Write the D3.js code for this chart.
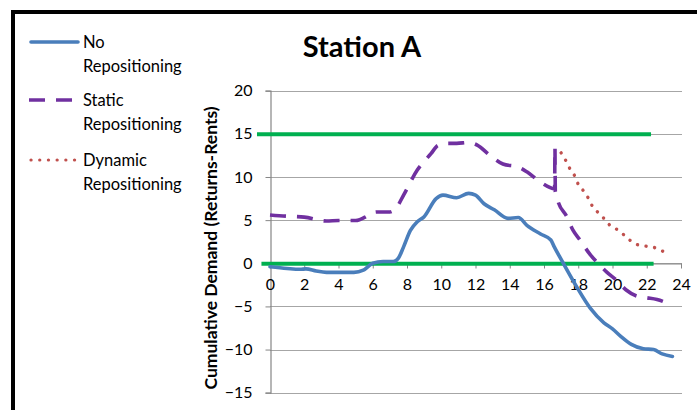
<!DOCTYPE html>
<html>
<head>
<meta charset="utf-8">
<script src="https://cdn.jsdelivr.net/npm/d3@7"></script>
<style>
  html, body { margin: 0; padding: 0; background: #fff; }
  svg { display: block; font-family: Lato, 'Open Sans', sans-serif; }
</style>
</head>
<body>
<svg id="chart" width="697" height="410"></svg>
<script>
// hours of the day and cumulative demand
const noRepoHours = [0, 1, 1.75, 2.1, 2.7, 3.3, 4.9, 5.45, 6.0, 6.6, 7.2, 7.5, 7.8, 8.2, 8.6, 9.0, 9.7, 10.1, 10.9, 11.6, 12.0, 12.5, 13.1, 13.9, 14.5, 15.0, 15.8, 16.4, 16.6, 17.1, 17.9, 18.7, 19.5, 20.0, 20.5, 21.1, 21.8, 22.4, 22.9, 23.5]
const noRepoValues = [-0.4, -0.6, -0.7, -0.65, -0.9, -1.05, -1.05, -0.8, 0, 0.2, 0.2, 0.6, 1.9, 3.8, 4.8, 5.4, 7.5, 7.9, 7.6, 8.1, 7.9, 6.9, 6.2, 5.2, 5.3, 4.4, 3.4, 2.7, 1.9, 0.1, -2.7, -5.2, -6.9, -7.6, -8.5, -9.4, -9.9, -10.0, -10.5, -10.8]

const staticHours = [0, 1, 2, 3.3, 4, 5, 5.8, 6.2, 7.0, 7.4, 7.8, 8.6, 9.4, 9.8, 10.3, 10.9, 11.6, 12.1, 12.85, 13.6, 14.5, 15.0, 15.8, 16.62, 16.64, 16.66, 16.83, 17.33, 17.7, 18.1, 18.7, 19.1, 19.65, 20.2, 20.8, 21.4, 22.0, 22.6, 23.4]
const staticValues = [5.6, 5.45, 5.35, 4.9, 4.95, 4.95, 5.6, 5.95, 5.95, 6.5, 7.9, 10.8, 12.7, 13.65, 13.9, 13.9, 14.0, 13.7, 12.5, 11.5, 11.15, 10.6, 9.4, 8.65, 13.4, 8.3, 7.1, 5.4, 3.8, 2.7, 1.0, 0.1, -1.0, -1.9, -3.1, -3.8, -4.0, -4.2, -4.8]

const dynamicHours = [17.0, 17.3, 17.5, 17.8, 18.0, 18.3, 18.6, 18.8, 19.2, 19.5, 19.8, 20.2, 20.6, 21.0, 21.4, 21.9, 22.4, 22.8, 23.3]
const dynamicValues = [12.8, 11.8, 11.0, 10.1, 9.15, 8.4, 7.5, 6.7, 5.8, 5.2, 4.5, 4.0, 3.4, 2.7, 2.2, 2.0, 1.85, 1.5, 1.15]

// capacity / empty limits drawn as flat green bars
const limitValues = [15, 0]
const limitStarts = [-0.76, -0.5]
const limitEnds = [22.25, 22.4]

const xTicks = d3.range(0, 25, 2)
const yTicks = d3.range(-15, 21, 5)

const seriesNames = ['No Repositioning', 'Static Repositioning', 'Dynamic Repositioning']
const seriesColors = ['#4a7ebb', '#7030a0', '#c0504d']
const seriesDash = [null, '16,11', '0.1,8.6']
const seriesCaps = ['round', 'butt', 'round']

const svg = d3.select('#chart')
const width = +svg.attr('width')
const height = +svg.attr('height')

svg.append('rect')
  .attr('width', width)
  .attr('height', height)
  .attr('fill', '#fff')

// outer frame, clipped by the window on the right and bottom
svg.append('rect')
  .attr('x', 13)
  .attr('y', 12)
  .attr('width', 720)
  .attr('height', 440)
  .attr('fill', 'none')
  .attr('stroke', '#000')
  .attr('stroke-width', 4)

const x = d3.scaleLinear().domain([0, 24]).range([270, 681])
const y = d3.scaleLinear().domain([-15, 20]).range([392.7, 90.7])

// gridlines
svg.append('g')
  .selectAll('line')
  .data(yTicks)
  .enter()
  .append('line')
  .attr('x1', x(0))
  .attr('x2', x(24) + 1)
  .attr('y1', d => Math.round(y(d)) + 0.5)
  .attr('y2', d => Math.round(y(d)) + 0.5)
  .attr('stroke', '#a6a6a6')
  .attr('stroke-width', 1.2)

// y axis
const yAxis = svg.append('g')
  .attr('transform', `translate(${x(0) + 0.5},0)`)
  .call(d3.axisLeft(y).tickValues(yTicks).tickSize(5).tickPadding(13).tickFormat(d3.format('d')))
yAxis.select('.domain').attr('stroke', '#868686').attr('stroke-width', 1.2)
yAxis.selectAll('.tick line').attr('stroke', '#868686')
yAxis.selectAll('.tick text')
  .attr('font-size', 16)
  .attr('fill', '#000')
  .attr('font-family', 'Lato, sans-serif')

// x axis on the zero line
const xAxis = svg.append('g')
  .attr('transform', `translate(0,${Math.round(y(0)) + 0.5})`)
  .call(d3.axisBottom(x).tickValues(xTicks).tickSize(5).tickPadding(10).tickSizeOuter(0))
xAxis.select('.domain').attr('stroke', '#868686').attr('stroke-width', 1.2)
xAxis.selectAll('.tick line').attr('stroke', '#868686')
xAxis.selectAll('.tick text')
  .attr('font-size', 16)
  .attr('fill', '#000')
  .attr('font-family', 'Lato, sans-serif')

// green limit bars
svg.append('g')
  .selectAll('line')
  .data(limitValues)
  .enter()
  .append('line')
  .attr('x1', (d, i) => x(limitStarts[i]))
  .attr('x2', (d, i) => x(limitEnds[i]))
  .attr('y1', d => y(d) + 0.5)
  .attr('y2', d => y(d) + 0.5)
  .attr('stroke', '#00b050')
  .attr('stroke-width', 4)

const line = d3.line()
  .x(d => x(d[0]))
  .y(d => y(d[1]))
  .curve(d3.curveMonotoneX)

const seriesData = [
  d3.zip(noRepoHours, noRepoValues),
  d3.zip(staticHours, staticValues),
  d3.zip(dynamicHours, dynamicValues)
]

svg.append('g')
  .selectAll('path')
  .data(seriesData)
  .enter()
  .append('path')
  .attr('d', line)
  .attr('fill', 'none')
  .attr('stroke', (d, i) => seriesColors[i])
  .attr('stroke-width', (d, i) => i === 2 ? 3.4 : 3.6)
  .attr('stroke-dasharray', (d, i) => seriesDash[i])
  .attr('stroke-linecap', (d, i) => seriesCaps[i])
  .attr('stroke-linejoin', 'round')

// title
svg.append('text')
  .attr('x', 362)
  .attr('y', 57)
  .attr('text-anchor', 'middle')
  .attr('font-size', 29)
  .attr('font-weight', 'bold')
  .text('Station A')

// y axis title
svg.append('text')
  .attr('transform', 'translate(217,248) rotate(-90)')
  .attr('text-anchor', 'middle')
  .attr('font-size', 17.5)
  .attr('font-weight', 'bold')
  .text('Cumulative Demand (Returns-Rents)')

// legend
const legendRowY = [42, 100, 160]
const legendItems = svg.append('g')
  .selectAll('g')
  .data(seriesNames)
  .enter()
  .append('g')
  .attr('transform', (d, i) => `translate(0,${legendRowY[i]})`)

legendItems.append('line')
  .attr('x1', (d, i) => i === 1 ? 29 : 31)
  .attr('x2', (d, i) => i === 1 ? 74 : 78)
  .attr('stroke', (d, i) => seriesColors[i])
  .attr('stroke-width', (d, i) => i === 2 ? 3.2 : 3.6)
  .attr('stroke-dasharray', (d, i) => seriesDash[i])
  .attr('stroke-linecap', (d, i) => seriesCaps[i])

legendItems.append('text')
  .attr('x', 83)
  .attr('y', 0)
  .attr('font-size', 16.5)
  .selectAll('tspan')
  .data(d => d.split(' '))
  .enter()
  .append('tspan')
  .attr('x', 83)
  .attr('dy', (d, i) => i === 0 ? 6 : 23.5)
  .text(d => d)
</script>
</body>
</html>
